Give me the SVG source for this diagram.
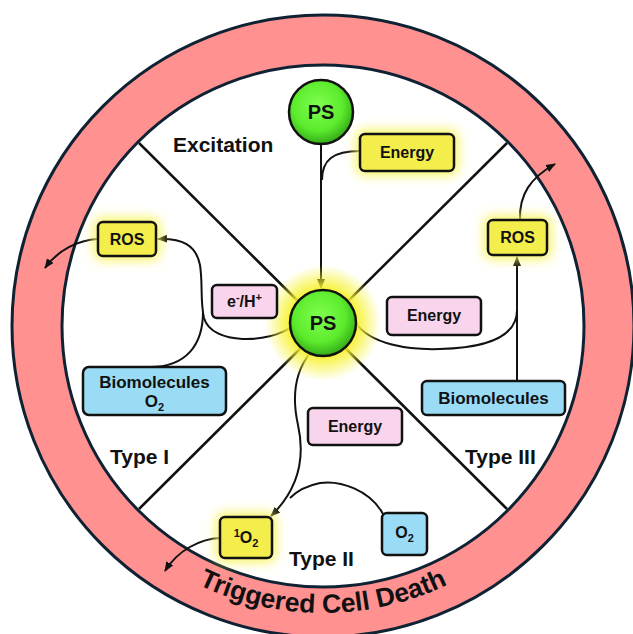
<svg xmlns="http://www.w3.org/2000/svg" width="633" height="634" viewBox="0 0 633 634">
<style>
text{font-family:"Liberation Sans",Arial,sans-serif;font-weight:bold;fill:#111}
.box{stroke:#111;stroke-width:2.5}
.y{fill:#F4EE4C}.p{fill:#F8D5EC}.b{fill:#9ADCF5}
.bt{font-size:16px;text-anchor:middle}
.bio{font-size:17px}
.lbl{font-size:21px}
.con{fill:none;stroke:#111;stroke-width:2}
.div{stroke:#111;stroke-width:2.5}
.glow{fill:#F8F45A;filter:url(#blur)}
</style>
<defs>
<filter id="blur" x="-50%" y="-50%" width="200%" height="200%"><feGaussianBlur stdDeviation="6"/></filter>
<radialGradient id="psg" cx="45%" cy="40%" r="60%">
<stop offset="0" stop-color="#80FF50"/>
<stop offset="0.65" stop-color="#5CEB2C"/>
<stop offset="1" stop-color="#34AC18"/>
</radialGradient>
<radialGradient id="halo" cx="50%" cy="50%" r="50%">
<stop offset="0.55" stop-color="#F6F22E" stop-opacity="1"/>
<stop offset="1" stop-color="#F6F22E" stop-opacity="0"/>
</radialGradient>
<marker id="arr" markerWidth="10" markerHeight="10" refX="9" refY="5" orient="auto" markerUnits="userSpaceOnUse">
<path d="M0,1 L10,5 L0,9 Z" fill="#111"/>
</marker>
<path id="arc" d="M73.6,469 A288,288 0 0 0 572.4,469"/>
</defs>
<rect width="633" height="634" fill="#fff"/>
<g id="ring">
<circle cx="323" cy="326" r="286" fill="none" stroke="#0F2233" stroke-width="53"/>
<circle cx="323" cy="326" r="286" fill="none" stroke="#FF9191" stroke-width="47"/>
<text font-size="26.5"><textPath href="#arc" startOffset="50%" text-anchor="middle">Triggered Cell Death</textPath></text>
</g>
<g id="dividers">
<line class="div" x1="139" y1="143" x2="507" y2="509"/>
<line class="div" x1="507" y1="143" x2="139" y2="509"/>
</g>
<g id="labels">
<text class="lbl" x="173" y="152">Excitation</text>
<text class="lbl" x="110" y="464">Type I</text>
<text class="lbl" x="289" y="566">Type II</text>
<text class="lbl" x="465" y="464">Type III</text>
</g>
<g id="connectors">
<path class="con" d="M321,144 L321,288" marker-end="url(#arr)"/>
<path class="con" d="M360,151 C333,151 322,160 322,180"/>
<path class="con" d="M291,327 C270,343 212,346 204,318 C200,300 203,285 200,265 C196,245 182,238 158,239" marker-end="url(#arr)"/>
<path class="con" d="M150,367 C186,367 203,345 203,312"/>
<path class="con" d="M98,239 C78,240 58,250 45,268" marker-end="url(#arr)"/>
<path class="con" d="M355,322 C370,345 410,350 440,349 C480,348 517,340 517,310"/>
<path class="con" d="M517,382 L517,257" marker-end="url(#arr)"/>
<path class="con" d="M520,220 C519,195 530,178 555,164" marker-end="url(#arr)"/>
<path class="con" d="M310,353 C295,372 292,398 298,425 C304,452 303,485 271,516" marker-end="url(#arr)"/>
<path class="con" d="M383,514 C370,490 340,480 320,483 C305,486 296,492 290,498"/>
<path class="con" d="M220,538 C200,539 178,550 165,571" marker-end="url(#arr)"/>
</g>
<g id="ps-top">
<circle cx="321" cy="112" r="32" fill="url(#psg)" stroke="#111" stroke-width="2.5"/>
<text x="321" y="119" font-size="20" text-anchor="middle">PS</text>
</g>
<g id="ps-center">
<circle cx="323" cy="323" r="58" fill="url(#halo)"/>
<circle cx="323" cy="323" r="33" fill="url(#psg)" stroke="#111" stroke-width="2.5"/>
<text x="323" y="330" font-size="20" text-anchor="middle">PS</text>
</g>
<g id="energy-top">
<rect class="glow" x="356" y="130" width="102" height="45" rx="8"/>
<rect class="box y" x="360" y="134" width="94" height="37" rx="5"/>
<text class="bt" x="407" y="158">Energy</text>
</g>
<g id="ros-left">
<rect class="glow" x="94" y="218" width="66" height="42" rx="8"/>
<rect class="box y" x="98" y="222" width="58" height="34" rx="5"/>
<text class="bt" x="127" y="245">ROS</text>
</g>
<g id="eh">
<rect class="box p" x="212" y="285" width="65" height="33" rx="5"/>
<text class="bt" x="244.5" y="307">e<tspan font-size="11" dy="-6">-</tspan><tspan dy="6">/H</tspan><tspan font-size="11" dy="-6">+</tspan></text>
</g>
<g id="bio-left">
<rect class="box b" x="83" y="367" width="143" height="48" rx="6"/>
<text class="bt bio" x="154.5" y="388">Biomolecules</text>
<text class="bt bio" x="154.5" y="407">O<tspan font-size="11" dy="4">2</tspan></text>
</g>
<g id="energy-right">
<rect class="box p" x="387" y="297" width="94" height="38" rx="5"/>
<text class="bt" x="434" y="321">Energy</text>
</g>
<g id="ros-right">
<rect class="glow" x="484" y="216" width="67" height="43" rx="8"/>
<rect class="box y" x="488" y="220" width="59" height="35" rx="5"/>
<text class="bt" x="517.5" y="243">ROS</text>
</g>
<g id="bio-right">
<rect class="box b" x="422" y="381" width="143" height="34" rx="5"/>
<text class="bt bio" x="493.5" y="404">Biomolecules</text>
</g>
<g id="energy-bottom">
<rect class="box p" x="308" y="408" width="94" height="37" rx="5"/>
<text class="bt" x="355" y="432">Energy</text>
</g>
<g id="singlet-o2">
<rect class="glow" x="216" y="513" width="60" height="49" rx="8"/>
<rect class="box y" x="220" y="517" width="52" height="41" rx="5"/>
<text class="bt" x="246" y="543"><tspan font-size="11" dy="-6">1</tspan><tspan dy="6">O</tspan><tspan font-size="11" dy="4">2</tspan></text>
</g>
<g id="o2">
<rect class="box b" x="382" y="513" width="45" height="42" rx="5"/>
<text class="bt" x="404.5" y="538">O<tspan font-size="11" dy="4">2</tspan></text>
</g>
</svg>
